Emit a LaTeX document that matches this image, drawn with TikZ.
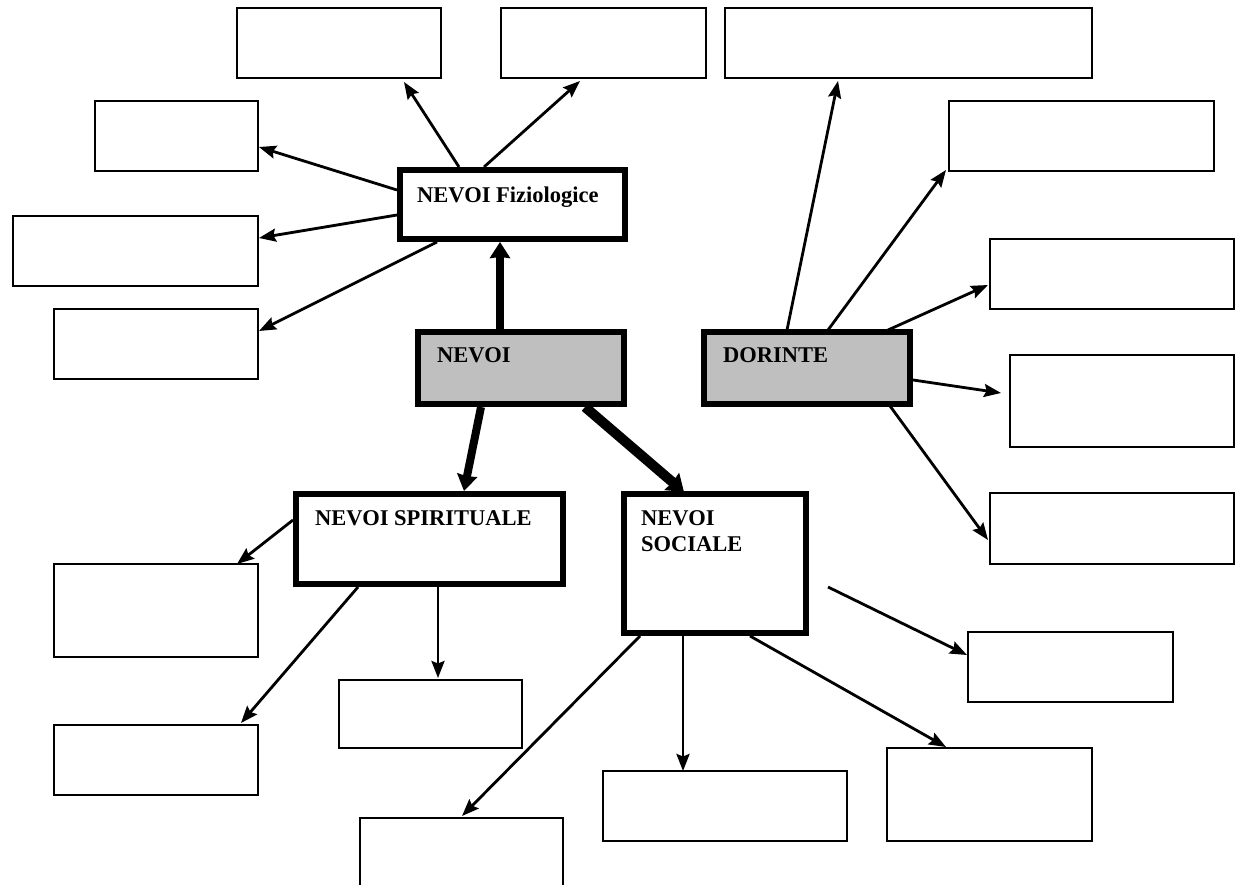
\documentclass[tikz,border=0pt]{standalone}
\usepackage{fontspec}
\setmainfont{Liberation Serif}
\usetikzlibrary{arrows.meta}
\begin{document}
\begin{tikzpicture}[x=1pt,y=-1pt,
  emptybox/.style={draw=black,line width=2.2pt,fill=white},
  mainbox/.style={draw=black,line width=6pt,fill=white},
  graybox/.style={draw=black,line width=6pt,fill=black!25},
  lbl/.style={font=\fontsize{22.5}{26}\selectfont\bfseries,inner sep=0pt,anchor=north west,align=left},
  arr/.style={line width=2.8pt,-{Stealth[inset=2.5pt,length=17pt,width=13pt]}},
  bigarr/.style={line width=8pt,-{Stealth[inset=1pt,length=16pt,width=20pt]}}]
\useasboundingbox (0,0) rectangle (1236,885);
\clip (0,0) rectangle (1236,885);
\fill[white] (0,0) rectangle (1236,885);
% empty boxes
\path[emptybox] (237,8) rectangle (441,78);
\path[emptybox] (501,8) rectangle (706,78);
\path[emptybox] (725,8) rectangle (1092,78);
\path[emptybox] (95,101) rectangle (258,171);
\path[emptybox] (13,216) rectangle (258,286);
\path[emptybox] (54,309) rectangle (258,379);
\path[emptybox] (949,101) rectangle (1214,171);
\path[emptybox] (990,239) rectangle (1234,309);
\path[emptybox] (1010,355) rectangle (1234,447);
\path[emptybox] (990,493) rectangle (1234,564);
\path[emptybox] (54,564) rectangle (258,657);
\path[emptybox] (54,725) rectangle (258,795);
\path[emptybox] (339,680) rectangle (522,748);
\path[emptybox] (360,818) rectangle (563,905);
\path[emptybox] (603,771) rectangle (847,841);
\path[emptybox] (887,748) rectangle (1092,841);
\path[emptybox] (968,632) rectangle (1173,702);
% main boxes
\path[mainbox] (400,170) rectangle (625,239);
\node[lbl] (fiz) at (417,187) {NEVOI Fiziologice};
\path[graybox] (418,332) rectangle (624,404);
\node[lbl] (nev) at (437,347) {NEVOI};
\path[graybox] (704,332) rectangle (910,404);
\node[lbl] (dor) at (723,347) {DORINTE};
\path[mainbox] (296,494) rectangle (563,584);
\node[lbl] (spi) at (315,510) {NEVOI SPIRITUALE};
\path[mainbox] (624,494) rectangle (806,633);
\node[lbl] (soc) at (641,510) {NEVOI\\SOCIALE};
% arrows from Fiziologice
\draw[arr] (459,167) -- (404,82);
\draw[arr] (484,167) -- (580,81);
\draw[arr] (397,190) -- (259,147);
\draw[arr] (397,215) -- (259,238);
\draw[arr] (437,242) -- (259,331);
% thick arrows from NEVOI
\draw[bigarr] (500,329) -- (500,242);
\draw[bigarr] (481,407) -- (464,491);
\draw[line width=10pt,-{Stealth[inset=1pt,length=16pt,width=22pt]}] (585,407) -- (684,492);
% DORINTE
\draw[arr] (787,330) -- (838,81);
\draw[arr] (828,330) -- (946,170);
\draw[arr] (888,330) -- (988,285);
\draw[arr] (913,380) -- (1001,393);
\draw[arr] (890,406) -- (988,540);
% Spirituale
\draw[arr] (293,520) -- (237,564);
\draw[arr] (358,587) -- (241,723);
\draw[arr] (438,587) -- (438,678);
% Sociale
\draw[arr] (640,636) -- (462,816);
\draw[arr] (683,636) -- (683,771);
\draw[arr] (750,636) -- (946,747);
\coordinate (free) at (828,587);
\draw[arr] (free) -- (967,655);
\end{tikzpicture}
\end{document}
